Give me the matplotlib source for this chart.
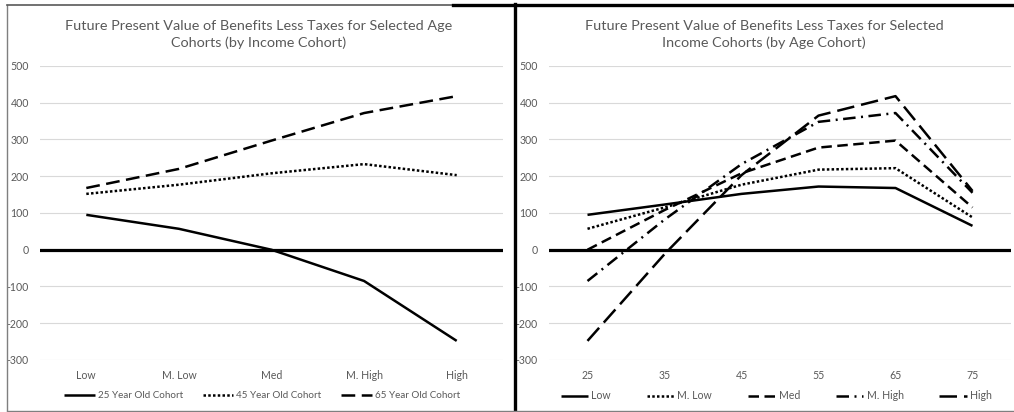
import matplotlib
matplotlib.use("Agg")
import matplotlib.pyplot as plt
from matplotlib.lines import Line2D

plt.rcParams["font.family"] = ["Lato", "DejaVu Sans"]

# Left panel: age cohorts across income groups
income_groups = ["Low", "M. Low", "Med", "M. High", "High"]
age_cohort_labels = ["25 Year Old Cohort", "45 Year Old Cohort", "65 Year Old Cohort"]
cohort_25 = [95, 57, 0, -85, -248]
cohort_45 = [152, 177, 208, 233, 203]
cohort_65 = [168, 220, 297, 372, 418]

# Right panel: income cohorts across ages
ages = ["25", "35", "45", "55", "65", "75"]
income_labels = ["Low", "M. Low", "Med", "M. High", "High"]
income_low = [95, 123, 152, 172, 168, 65]
income_mlow = [57, 115, 177, 218, 222, 88]
income_med = [0, 108, 208, 278, 297, 115]
income_mhigh = [-85, 82, 233, 348, 372, 155]
income_high = [-248, -12, 203, 365, 418, 160]

y_ticks = [-300, -200, -100, 0, 100, 200, 300, 400, 500]

TEXT = "#595959"
GRID = "#d9d9d9"
LW = 1.8
FS = 7.6

SOLID = (0, ())
DOT = (0, (1, 0.9))
DASH = (0, (5.5, 2.6))
MED_DASH = (0, (4.2, 2.2))
DASH_DOT = (0, (5, 2.2, 0.8, 2.2))
LONG_DASH = (0, (7, 2.8))

W, H = 1014, 412
fig = plt.figure(figsize=(W / 100, H / 100), dpi=100)


def px_axes(x0, x1, y_top, y_bot):
    return fig.add_axes([x0 / W, 1 - y_bot / H, (x1 - x0) / W, (y_bot - y_top) / H])


def style_axes(ax, labels):
    n = len(labels)
    ax.set_xlim(-0.5, n - 0.5)
    ax.set_ylim(-300, 500)
    ax.set_yticks(y_ticks)
    ax.set_yticklabels([str(v) for v in y_ticks])
    ax.set_xticks(range(n))
    ax.set_xticklabels(labels)
    ax.tick_params(axis="both", length=0, labelsize=FS, colors=TEXT)
    ax.tick_params(axis="y", pad=8)
    ax.tick_params(axis="x", pad=7)
    for s in ax.spines.values():
        s.set_visible(False)
    for v in y_ticks:
        if v != 0:
            ax.axhline(v, color=GRID, lw=0.8, zorder=0)
    ax.axhline(0, color="black", lw=2.3, zorder=1)


# left chart
ax1 = px_axes(40, 503, 66, 360)
style_axes(ax1, income_groups)
x1 = list(range(len(income_groups)))
left_series = [(cohort_25, SOLID), (cohort_45, DOT), (cohort_65, DASH)]
for (vals, ls), lab in zip(left_series, age_cohort_labels):
    ax1.plot(x1, vals, color="black", lw=LW, linestyle=ls, label=lab, zorder=3)
ax1.legend(loc="center", bbox_to_anchor=(0.48, -0.122), ncol=3, frameon=False,
           fontsize=7.1, labelcolor=TEXT, handlelength=3.1, handletextpad=0.3,
           columnspacing=2.0, borderaxespad=0, borderpad=0)

# right chart
ax2 = px_axes(549, 1011, 66, 360)
style_axes(ax2, ages)
x2 = list(range(len(ages)))
right_styles = [SOLID, DOT, MED_DASH, DASH_DOT, LONG_DASH]
right_values = [income_low, income_mlow, income_med, income_mhigh, income_high]
for vals, ls, lab in zip(right_values, right_styles, income_labels):
    ax2.plot(x2, vals, color="black", lw=LW, linestyle=ls, label=lab, zorder=3)
ax2.legend(loc="center", bbox_to_anchor=(0.492, -0.122), ncol=5, frameon=False,
           fontsize=FS, labelcolor=TEXT, handlelength=2.6, handletextpad=0.3,
           columnspacing=3.4, borderaxespad=0, borderpad=0)

# titles
fig.text(259 / W, 1 - 34.5 / H,
         "Future Present Value of Benefits Less Taxes for Selected Age\nCohorts (by Income Cohort)",
         ha="center", va="center", fontsize=10.4, color=TEXT, linespacing=1.35)
fig.text(764 / W, 1 - 34.5 / H,
         "Future Present Value of Benefits Less Taxes for Selected\nIncome Cohorts (by Age Cohort)",
         ha="center", va="center", fontsize=10.4, color=TEXT, linespacing=1.35)

# panel frames
def fig_line(xs, ys, **kw):
    fig.add_artist(Line2D([x / W for x in xs], [1 - y / H for y in ys],
                          transform=fig.transFigure, **kw))

fig_line([7, 7], [5, 410], color="#7f7f7f", lw=1.0)
fig_line([7, 453], [5, 5], color="#595959", lw=1.2)
fig_line([453, 1014], [4.5, 4.5], color="black", lw=2.4)
fig_line([515, 515], [4, 412], color="black", lw=2.4)
fig_line([7, 1014], [410.5, 410.5], color="#7f7f7f", lw=1.0)

fig.savefig("out.png", dpi=100)
